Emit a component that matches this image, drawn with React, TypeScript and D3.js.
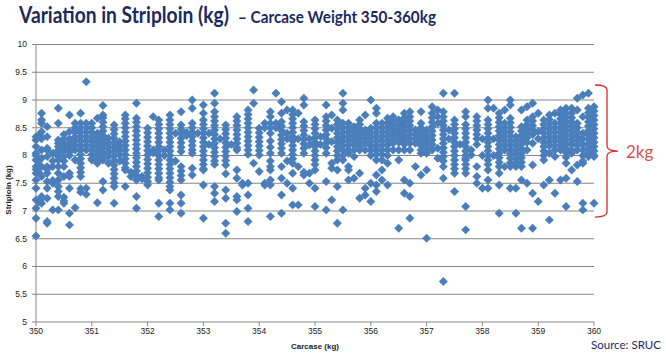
import * as d3 from "d3"

// Carcase weight (kg) columns -> striploin weights (kg)
type Col = [number, number[]]

const g350: Col[] = [
  [350.0, [8.34, 8.28, 8.16, 8.04, 7.92, 7.8, 7.68, 7.56, 7.41, 7.2, 7.05, 6.87, 6.55, 8.0, 7.75]],
  [350.05, [8.36, 7.9, 7.7, 7.16]],
  [350.1, [8.76, 8.64, 8.58, 8.43, 8.34, 8.1, 7.95, 7.8, 7.62, 7.26, 7.14, 7.22, 8.3]],
  [350.2, [8.52, 8.34, 8.13, 7.98, 7.8, 7.68, 7.53, 7.41, 7.23, 6.81, 6.78, 8.1, 7.75]],
  [350.3, [8.04, 7.8, 7.5, 7.02, 7.9, 7.55]],
  [350.4, [8.85, 8.58, 8.28, 8.22, 8.16, 8.1, 8.04, 7.98, 7.92, 7.8, 7.68, 7.56, 7.44, 7.35, 7.26, 7.02]],
  [350.5, [8.3, 8.22, 8.15, 8.08, 7.98, 7.9, 7.8, 7.62, 7.25, 7.18, 7.14, 8.38]],
  [350.6, [8.73, 8.43, 8.3, 8.22, 8.14, 8.06, 8.0, 7.68, 7.62, 7.41, 6.96, 6.75, 8.15]],
  [350.7, [8.58, 8.5, 8.42, 8.34, 8.26, 8.18, 8.1, 7.92, 7.06, 8.45]],
  [350.8, [8.76, 8.58, 8.5, 8.42, 8.34, 8.26, 8.18, 8.1, 8.02, 7.94, 7.86, 7.78, 7.7, 7.62, 7.34, 7.4]],
  [350.9, [9.33, 8.58, 8.5, 8.42, 8.34, 8.26, 8.18, 8.1, 7.41, 7.3]],
]

const g351: Col[] = [
  [351.0, [8.58, 8.5, 8.42, 8.34, 8.26, 8.18, 8.1, 8.02, 7.94, 7.92]],
  [351.1, [8.67, 8.4, 8.32, 8.24, 8.16, 8.08, 8.0, 7.92, 7.86, 7.15]],
  [351.2, [8.9, 8.73, 8.68, 8.6, 8.52, 8.44, 8.36, 8.28, 8.2, 8.12, 8.04, 7.96, 7.92, 7.53, 7.38]],
  [351.3, [8.31, 8.22, 8.14, 8.06, 7.98, 7.86]],
  [351.4, [8.55, 8.47, 8.39, 8.31, 8.23, 8.15, 8.07, 7.99, 7.91, 7.83, 7.75, 7.67, 7.59, 7.51, 7.44, 7.14]],
  [351.5, [8.25, 8.17, 8.09, 8.01, 7.9]],
  [351.6, [8.73, 8.66, 8.58, 8.5, 8.42, 8.34, 8.26, 8.18, 8.1, 8.02, 7.94, 7.86, 7.78, 7.74, 7.44]],
  [351.7, [7.62, 7.7]],
  [351.8, [8.94, 8.67, 8.6, 8.52, 8.44, 8.36, 8.28, 8.2, 8.12, 8.04, 7.96, 7.88, 7.8, 7.72, 7.64, 7.56, 7.26, 7.05]],
  [351.9, [7.62, 7.58]],
]

const g352: Col[] = [
  [352.0, [8.49, 8.41, 8.33, 8.25, 8.17, 8.09, 8.01, 7.93, 7.85, 7.77, 7.69, 7.61, 7.53, 7.47]],
  [352.1, [8.7, 8.1, 8.05]],
  [352.2, [8.64, 8.56, 8.48, 8.4, 8.32, 8.24, 8.16, 8.08, 8.0, 7.92, 7.84, 7.76, 7.68, 7.6, 7.56, 7.14, 6.9]],
  [352.3, [8.1, 8.0]],
  [352.4, [8.73, 8.64, 8.56, 8.48, 8.4, 8.32, 8.24, 8.16, 8.08, 8.0, 7.92, 7.84, 7.76, 7.68, 7.6, 7.52, 7.44, 7.38, 7.14, 7.02]],
  [352.5, [8.4, 7.9]],
  [352.6, [8.79, 8.55, 8.47, 8.39, 8.31, 8.23, 8.15, 8.07, 7.8, 7.72, 7.64, 7.56, 7.29, 7.14, 6.96]],
  [352.7, [8.42, 8.36]],
  [352.8, [9.0, 8.85, 8.58, 8.5, 8.42, 8.34, 8.26, 8.18, 8.1, 8.04, 7.77, 7.65]],
  [352.9, [8.4]],
]

const g353: Col[] = [
  [353.0, [8.91, 8.76, 8.64, 8.56, 8.48, 8.4, 8.32, 8.24, 8.16, 8.08, 8.0, 7.92, 7.84, 7.76, 7.74, 7.47, 6.87]],
  [353.1, [8.4, 8.2]],
  [353.2, [9.12, 8.94, 8.79, 8.7, 8.62, 8.54, 8.46, 8.38, 8.3, 8.22, 8.14, 8.06, 7.98, 7.9, 7.84, 7.44, 7.32, 7.17]],
  [353.3, [8.3]],
  [353.4, [8.55, 8.47, 8.39, 8.31, 8.23, 8.15, 8.07, 7.99, 7.91, 7.83, 7.67, 7.38, 7.23, 6.78, 6.6]],
  [353.5, [8.2]],
  [353.6, [8.7, 8.62, 8.54, 8.46, 8.38, 8.3, 8.22, 8.14, 8.1, 7.74, 7.59, 7.26, 7.2, 6.99]],
  [353.7, [7.47, 7.5]],
  [353.8, [8.82, 8.74, 8.66, 8.58, 8.5, 8.42, 8.34, 8.26, 8.18, 8.1, 8.02, 7.5, 7.29, 7.05, 6.81]],
  [353.9, [9.18, 8.94, 7.86]],
]

const g354: Col[] = [
  [354.0, [8.49, 8.41, 8.33, 8.25, 8.17, 8.09, 8.01, 7.71]],
  [354.1, [8.58, 8.5, 7.47, 7.5]],
  [354.2, [8.79, 8.7, 8.58, 8.5, 8.4, 8.26, 8.15, 8.04, 7.9, 7.8, 7.74, 7.56, 7.47, 6.9]],
  [354.3, [9.12, 8.58, 8.5]],
  [354.4, [8.97, 8.76, 8.61, 8.53, 8.45, 8.37, 8.29, 8.21, 8.13, 8.04, 7.8, 7.59, 7.29, 6.96]],
  [354.5, [8.82, 8.4, 8.3, 7.5, 7.9]],
  [354.6, [8.82, 8.74, 8.66, 8.58, 8.5, 8.42, 8.34, 8.26, 8.18, 8.1, 8.02, 7.94, 7.86, 7.68, 7.41, 7.11]],
  [354.7, [8.76, 8.3, 7.8, 7.11]],
  [354.8, [9.03, 8.91, 8.61, 8.53, 8.45, 8.37, 8.29, 8.21, 8.13, 8.04, 7.65, 7.7]],
  [354.9, [8.19, 7.68, 7.5, 8.3]],
]

const g355: Col[] = [
  [355.0, [8.64, 8.56, 8.48, 8.4, 8.32, 8.24, 8.16, 8.08, 8.0, 7.92, 7.84, 7.74, 7.41, 7.08]],
  [355.1, [8.34, 8.2]],
  [355.2, [8.91, 8.7, 8.62, 8.54, 8.46, 8.38, 8.3, 8.22, 8.14, 8.04, 7.53, 7.02]],
  [355.3, [8.73, 8.49, 8.25, 7.86, 7.77, 7.2]],
  [355.4, [8.64, 8.56, 8.48, 8.4, 8.32, 8.24, 8.16, 8.08, 8.0, 7.92, 7.74, 7.44, 6.78]],
  [355.5, [9.12, 8.94, 8.82, 8.58, 8.5, 8.42, 8.34, 8.26, 8.18, 8.1, 8.0, 7.92, 7.02]],
  [355.6, [8.58, 8.5, 8.42, 8.34, 8.26, 8.18, 8.1, 8.04, 7.8, 7.74, 7.56]],
  [355.7, [8.52, 8.44, 8.36, 8.28, 8.2, 8.1, 7.98, 7.59]],
  [355.8, [8.64, 8.56, 8.48, 8.4, 8.32, 8.24, 8.16, 8.1, 7.68, 7.23]],
  [355.9, [8.73, 8.46, 8.38, 8.3, 8.22, 8.1, 7.41, 7.29]],
]

const g356: Col[] = [
  [356.0, [9.0, 8.49, 8.41, 8.33, 8.25, 8.17, 8.09, 8.0, 7.5, 7.17]],
  [356.1, [8.85, 8.76, 8.58, 8.5, 8.42, 8.34, 8.26, 8.18, 8.1, 8.02, 7.92, 7.65, 7.47, 7.35]],
  [356.2, [8.58, 8.5, 8.42, 8.34, 8.26, 8.18, 8.1, 8.02, 7.92, 7.74, 7.56]],
  [356.3, [8.67, 8.59, 8.51, 8.43, 8.35, 8.27, 8.19, 8.1, 8.0, 7.86, 7.47]],
  [356.4, [8.7, 8.62, 8.54, 8.46, 8.38, 8.3, 8.22, 8.1]],
  [356.5, [8.64, 8.56, 8.48, 8.4, 8.32, 8.24, 8.1, 7.92, 6.69]],
  [356.6, [8.76, 8.68, 8.6, 8.52, 8.44, 8.36, 8.28, 8.2, 8.1, 7.56, 7.32]],
  [356.7, [8.79, 8.7, 8.62, 8.54, 8.46, 8.38, 8.3, 8.22, 8.1, 7.5, 7.26, 6.87]],
  [356.8, [8.46, 8.38, 8.3, 8.22, 7.8]],
  [356.9, [8.79, 8.58, 8.5, 8.42, 8.34, 8.26, 8.18, 8.1, 8.04, 7.65]],
]

const g357: Col[] = [
  [357.0, [8.46, 8.38, 8.3, 8.22, 8.14, 8.04, 7.74, 6.51]],
  [357.1, [8.88, 8.76, 8.68, 8.6, 8.52, 8.44, 8.36, 8.28, 8.2, 8.1]],
  [357.2, [8.82, 8.7, 8.58, 8.13, 7.95]],
  [357.3, [9.12, 8.79, 8.7, 8.62, 8.54, 8.46, 8.38, 8.3, 8.22, 8.14, 8.06, 7.98, 7.9, 7.8, 7.59, 5.73]],
  [357.4, [8.46, 8.3]],
  [357.5, [9.12, 8.64, 8.56, 8.48, 8.4, 8.32, 8.24, 8.16, 8.08, 8.0, 7.92, 7.84, 7.76, 7.68, 7.35]],
  [357.6, [8.2]],
  [357.7, [8.79, 8.7, 8.56, 8.48, 8.4, 8.32, 8.24, 8.16, 8.08, 8.0, 7.92, 7.84, 7.76, 7.68, 7.08, 6.66, 7.95]],
  [357.8, [8.01, 8.1]],
  [357.9, [8.7, 8.62, 8.54, 8.46, 8.38, 8.3, 8.2, 7.8, 7.62, 7.5]],
]

const g358: Col[] = [
  [358.0, [7.41, 8.3, 8.0]],
  [358.1, [9.0, 8.85, 8.64, 8.56, 8.48, 8.4, 8.32, 8.24, 8.16, 8.08, 8.0, 7.92, 7.84, 7.74, 7.56, 7.41]],
  [358.2, [8.85, 8.3, 8.0]],
  [358.3, [8.76, 8.68, 8.6, 8.52, 8.44, 8.36, 8.28, 8.2, 8.12, 8.04, 7.96, 7.88, 7.8, 7.68, 7.47, 6.96]],
  [358.4, [8.82, 8.58, 8.5, 8.42, 8.34, 8.26, 8.18, 8.1, 7.8]],
  [358.5, [9.0, 8.91, 8.67, 8.59, 8.51, 8.43, 8.35, 8.27, 8.19, 8.11, 8.03, 7.95, 7.87, 7.8, 7.41]],
  [358.6, [8.34, 8.26, 8.18, 8.1, 8.02, 7.94, 7.86, 7.8, 7.41, 6.96]],
  [358.7, [8.82, 8.52, 8.44, 8.36, 8.28, 8.2, 8.12, 8.04, 7.96, 7.88, 7.8, 7.56, 6.69]],
  [358.8, [8.88, 8.64, 8.56, 8.48, 8.4, 8.32, 8.24, 8.1, 7.5]],
  [358.9, [8.94, 8.7, 8.62, 8.54, 8.46, 8.38, 8.22, 7.83, 7.32, 6.69]],
]

const g359: Col[] = [
  [359.0, [8.76, 8.43, 8.3, 7.17]],
  [359.1, [8.64, 8.56, 8.48, 8.4, 8.32, 8.24, 8.16, 8.08, 8.0, 7.92, 7.47]],
  [359.2, [8.73, 8.65, 8.57, 8.49, 8.41, 8.33, 8.25, 8.17, 8.04, 7.56, 6.84]],
  [359.3, [8.76, 8.58, 8.5, 8.42, 8.34, 8.26, 8.18, 8.1, 7.98, 7.32]],
  [359.4, [8.82, 8.74, 8.66, 8.58, 8.5, 8.42, 8.34, 8.26, 8.18, 8.1, 7.56]],
  [359.5, [8.85, 8.77, 8.69, 8.61, 8.53, 8.45, 8.37, 8.29, 8.21, 8.13, 8.05, 7.97, 7.86, 7.59, 7.08]],
  [359.6, [8.85, 8.76, 8.68, 8.6, 8.52, 8.44, 8.36, 8.28, 8.2, 8.1, 8.04, 7.74]],
  [359.7, [9.03, 8.82, 8.58, 8.5, 8.42, 8.34, 8.26, 8.18, 8.1, 7.83, 7.53]],
  [359.8, [9.09, 8.7, 8.4, 8.3, 8.2, 8.1, 8.0, 7.9, 7.86, 7.14, 7.02]],
  [359.9, [9.12, 8.85, 8.77, 8.69, 8.61, 8.53, 8.45, 8.37, 8.29, 8.21, 8.13, 8.04, 7.98]],
  [360.0, [8.88, 8.8, 8.72, 8.64, 8.56, 8.48, 8.4, 8.32, 8.24, 8.16, 8.08, 8.0, 7.98, 7.14]],
]

const xTicks = [350, 351, 352, 353, 354, 355, 356, 357, 358, 359, 360]
const yTicks = [5, 5.5, 6, 6.5, 7, 7.5, 8, 8.5, 9, 9.5, 10]

// the "2kg" spread bracket on the right (top, bottom in kg)
const spread = [9.27, 6.89]

const W = 666
const H = 354
const BLUE = "#4a7ebb"
const NAVY = "#1b2a5e"
const GRID = "#878787"
// horizontal squeeze so Lato reads like the narrow original face
const SQ = 0.72

export default function App() {
  const x = d3.scaleLinear().domain([350, 360]).range([36, 594])
  const y = d3.scaleLinear().domain([5, 10]).range([322, 44.5])

  const points = [g350, g351, g352, g353, g354, g355, g356, g357, g358, g359].flatMap((grp) =>
    grp.flatMap(([w, ys]) => ys.map((v) => [w, v] as [number, number]))
  )

  const diamond = d3.symbol().type(d3.symbolSquare).size(40)()

  const bx = 607
  const bTop = y(spread[0])
  const bBot = y(spread[1])
  const bMid = (bTop + bBot) / 2
  const bracket = `M595,${bTop} Q${bx},${bTop} ${bx},${bTop + 5} L${bx},${bMid - 5} Q${bx},${bMid} ${bx + 11},${bMid} Q${bx},${bMid} ${bx},${bMid + 5} L${bx},${bBot - 5} Q${bx},${bBot} 595,${bBot}`

  return (
    <svg
      width={W}
      height={H}
      style={{ position: "absolute", left: 0, top: 0, background: "white" }}
      fontFamily="Liberation Sans, Arial, sans-serif"
    >
      <text
        transform={`translate(19,23) scale(${SQ},1)`}
        fontFamily="Lato, sans-serif"
        fontWeight={700}
        fontSize={23}
        fill={NAVY}
        textLength={210 / SQ}
        lengthAdjust="spacingAndGlyphs"
      >
        Variation in Striploin (kg)
      </text>
      <text
        transform={`translate(238,23) scale(${SQ},1)`}
        fontFamily="Lato, sans-serif"
        fontWeight={700}
        fontSize={17.5}
        fill={NAVY}
        textLength={198 / SQ}
        lengthAdjust="spacingAndGlyphs"
      >
        – Carcase Weight 350-360kg
      </text>

      {/* gridlines */}
      {yTicks.slice(1).map((t) => (
        <line key={t} x1={x(350)} x2={x(360)} y1={y(t)} y2={y(t)} stroke={GRID} strokeWidth={1} />
      ))}
      {/* axes */}
      <line x1={x(350)} x2={x(350)} y1={y(10)} y2={y(5)} stroke={GRID} />
      <line x1={x(350)} x2={x(360)} y1={y(5)} y2={y(5)} stroke={GRID} />
      {yTicks.map((t) => (
        <g key={t}>
          <line x1={x(350) - 4} x2={x(350)} y1={y(t)} y2={y(t)} stroke={GRID} />
          <text x={27} y={y(t)} dy="0.35em" textAnchor="end" fontSize={8.5} fill="#222">
            {t}
          </text>
        </g>
      ))}
      {xTicks.map((t) => (
        <g key={t}>
          <line x1={x(t)} x2={x(t)} y1={y(5)} y2={y(5) + 4} stroke={GRID} />
          <text x={x(t)} y={331} dy="0.35em" textAnchor="middle" fontSize={8.5} fill="#222">
            {t}
          </text>
        </g>
      ))}
      <text transform="translate(11,190) rotate(-90)" textAnchor="middle" fontSize={8} fontWeight={700} fill="#222">
        Striploin (kg)
      </text>
      <text x={315} y={349} textAnchor="middle" fontSize={8} fontWeight={700} fill="#222">
        Carcase (kg)
      </text>

      {/* points */}
      <g fill={BLUE}>
        {points.map(([w, v], i) => (
          <path key={i} d={diamond ?? ""} transform={`translate(${x(w)},${y(v)}) rotate(45)`} />
        ))}
      </g>

      {/* spread bracket */}
      <path d={bracket} fill="none" stroke="#e4262a" strokeWidth={1.3} />
      <text x={626} y={158} fontFamily="Lato, sans-serif" fontSize={17} fill="#d9534f">
        2kg
      </text>

      <text x={591} y={348.5} fontFamily="Lato, sans-serif" fontSize={12} fill={NAVY} textLength={70} lengthAdjust="spacingAndGlyphs">
        Source: SRUC
      </text>
    </svg>
  )
}
